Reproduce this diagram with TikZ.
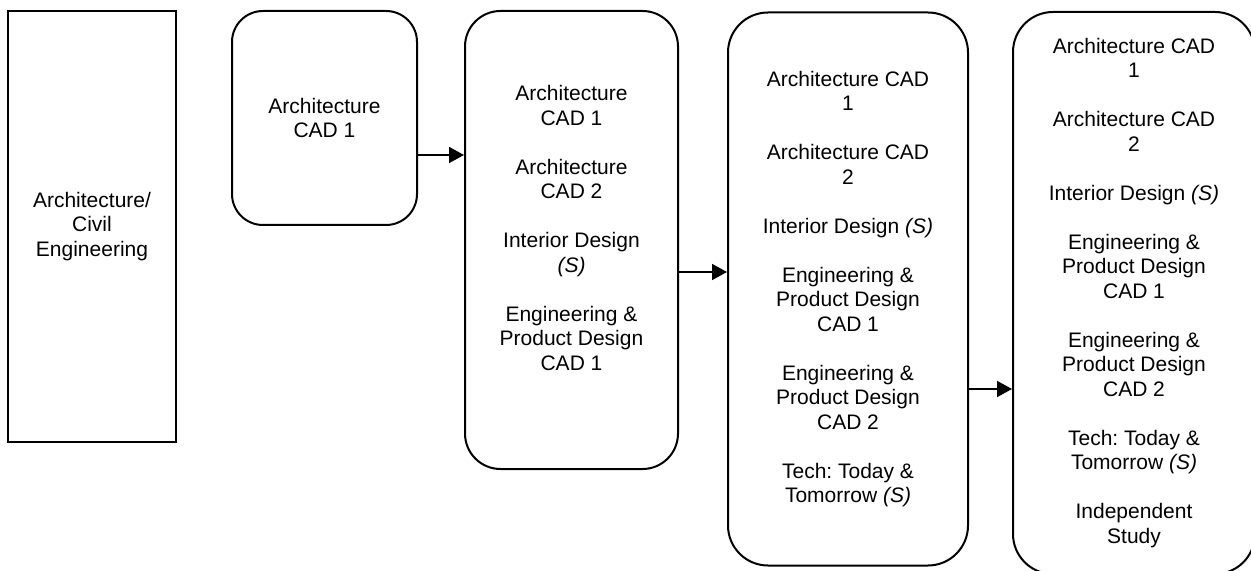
\documentclass[tikz,border=0pt]{standalone}
\usepackage{fontspec}
\setmainfont{Liberation Sans}
\usetikzlibrary{arrows.meta}
\frenchspacing
\begin{document}
\begin{tikzpicture}[
  x=0.5pt, y=-0.5pt,
  course/.style={draw, line width=1pt, inner sep=0pt, align=center,
    font=\fontsize{10.5}{12.25}\selectfont},
  flow/.style={line width=0.8pt, -{Triangle[length=7.5pt,width=8pt]}}
]
\clip (0,0) rectangle (1251,571);

% Pathway title
\node[course, line width=1.1pt, minimum width=84pt, minimum height=215.5pt] (path) at (92,226.5)
  {Architecture/\\Civil\\Engineering};

% Year 1
\node[course, rounded corners=15.5pt, minimum width=92.5pt, minimum height=107pt] (y1) at (324.5,118)
  {Architecture\\CAD 1};

% Year 2
\node[course, rounded corners=17.75pt, minimum width=106.5pt, minimum height=229pt] (y2) at (571.5,240)
  {Architecture\\CAD 1\\[12.25pt]
   Architecture\\CAD 2\\[12.25pt]
   Interior Design\\\textit{(S)}\\[12.25pt]
   Engineering \&\\Product Design\\CAD 1\\\mbox{}};

% Year 3
\node[course, rounded corners=20pt, minimum width=120pt, minimum height=276.5pt] (y3) at (848,289)
  {Architecture CAD\\1\\[12.25pt]
   Architecture CAD\\2\\[12.25pt]
   Interior Design \textit{(S)}\\[12.25pt]
   Engineering \&\\Product Design\\CAD 1\\[12.25pt]
   Engineering \&\\Product Design\\CAD 2\\[12.25pt]
   Tech: Today \&\\Tomorrow \textit{(S)}};

% Year 4
\node[course, rounded corners=20pt, minimum width=121pt, minimum height=281pt] (y4) at (1134,293)
  {Architecture CAD\\1\\[12.25pt]
   Architecture CAD\\2\\[12.25pt]
   Interior Design \textit{(S)}\\[12.25pt]
   Engineering \&\\Product Design\\CAD 1\\[12.25pt]
   Engineering \&\\Product Design\\CAD 2\\[12.25pt]
   Tech: Today \&\\Tomorrow \textit{(S)}\\[12.25pt]
   Independent\\Study};

% Arrow heights
\coordinate (h1) at (0,155);
\coordinate (h2) at (0,272);
\coordinate (h3) at (0,389);

\draw[flow] (y1.east |- h1) -- (y2.west |- h1);
\draw[flow] (y2.east |- h2) -- (y3.west |- h2);
\draw[flow] (y3.east |- h3) -- (y4.west |- h3);
\end{tikzpicture}
\end{document}
